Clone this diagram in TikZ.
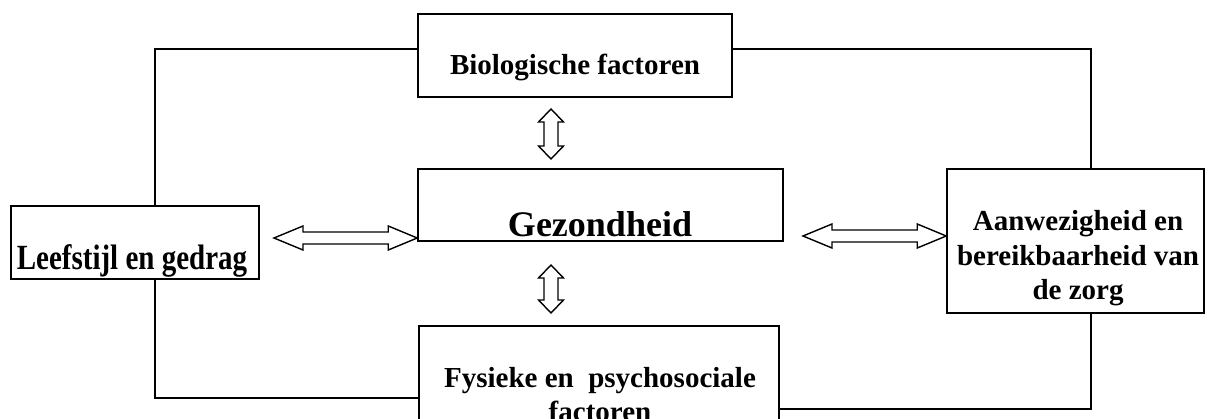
\documentclass[tikz,border=0pt]{standalone}
\usepackage{graphicx}
\usepackage{fontspec}
\setmainfont{Liberation Serif}
\usetikzlibrary{calc}
\newcommand\hdarr[2]{\draw[blockarr] let \p1=(#1),\p2=(#2) in
  (\x1,\y1) -- ({\x1+29pt},{\y1+12pt}) -- ({\x1+29pt},{\y1+6pt}) -- ({\x2-29pt},{\y1+6pt}) -- ({\x2-29pt},{\y1+12pt}) -- (\x2,\y1)
  -- ({\x2-29pt},{\y1-12pt}) -- ({\x2-29pt},{\y1-6pt}) -- ({\x1+29pt},{\y1-6pt}) -- ({\x1+29pt},{\y1-12pt}) -- cycle;}
\newcommand\vdarr[2]{\draw[blockarr] let \p1=(#1),\p2=(#2) in
  (\x1,\y1) -- ({\x1+12.5pt},{\y1-13pt}) -- ({\x1+7pt},{\y1-13pt}) -- ({\x1+7pt},{\y2+13pt}) -- ({\x1+12.5pt},{\y2+13pt}) -- (\x1,\y2)
  -- ({\x1-12.5pt},{\y2+13pt}) -- ({\x1-7pt},{\y2+13pt}) -- ({\x1-7pt},{\y1-13pt}) -- ({\x1-12.5pt},{\y1-13pt}) -- cycle;}
\begin{document}
\begin{tikzpicture}[x=1pt,y=-1pt,
  box/.style={draw,line width=1.5pt,inner sep=0pt,fill=white},
  lbl/.style={font=\fontsize{29}{34}\selectfont\bfseries,anchor=base,inner sep=0pt,align=center},
  conn/.style={line width=1.5pt},
  blockarr/.style={draw,line width=1.4pt,fill=white,line join=miter}]
\useasboundingbox (0,0) rectangle (1212,419);
\clip (0,0) rectangle (1212,419);
\fill[white] (0,0) rectangle (1212,419);
% boxes
\node[box,minimum width=314pt,minimum height=83pt] (bio) at (575,55.5) {};
\node[box,minimum width=365pt,minimum height=72pt] (gez) at (600.5,205) {};
\node[box,minimum width=248pt,minimum height=73pt] (leef) at (135,242.5) {};
\node[box,minimum width=257pt,minimum height=144pt] (zorg) at (1075.5,241) {};
\node[box,minimum width=360pt,minimum height=130pt] (fys) at (599,391) {};
% texts
\node[lbl] (tbio) at (575,75) {Biologische factoren};
\node[lbl,font=\fontsize{36}{40}\selectfont\bfseries] (tgez) at (600,237) {Gezondheid};
\node[lbl] (tleef) at (132,270) {\scalebox{1}[1.22]{Leefstijl en gedrag}};
\node[lbl] (tz1) at (1078,231) {Aanwezigheid en};
\node[lbl] (tz2) at (1078,265.5) {bereikbaarheid van};
\node[lbl] (tz3) at (1078,299.5) {de zorg};
\node[lbl] (tf1) at (600,387) {Fysieke en\ \ psychosociale};
\node[lbl] (tf2) at (600,421) {factoren};
% corner coordinates
\coordinate (tl) at (155,49);
\coordinate (tr) at (1091,49);
\coordinate (bl) at (155,398);
\coordinate (br) at (1091,409);
\draw[conn] (bio.west |- tl) -- (tl) -- (tl |- leef.north);
\draw[conn] (bio.east |- tr) -- (tr) -- (tr |- zorg.north);
\draw[conn] (leef.south -| bl) -- (bl) -- (bl -| fys.west);
\draw[conn] (fys.east |- br) -- (br) -- (br |- zorg.south);
% block arrows
\coordinate (a1) at (274,238);
\coordinate (a2) at (803,236);
\coordinate (v1t) at (551,109);
\coordinate (v1b) at (551,159);
\coordinate (v2t) at (551,265);
\coordinate (v2b) at (551,313);
\hdarr{a1}{gez.west |- a1}
\hdarr{a2}{zorg.west |- a2}
\vdarr{v1t}{v1b}
\vdarr{v2t}{v2b}
\end{tikzpicture}
\end{document}
